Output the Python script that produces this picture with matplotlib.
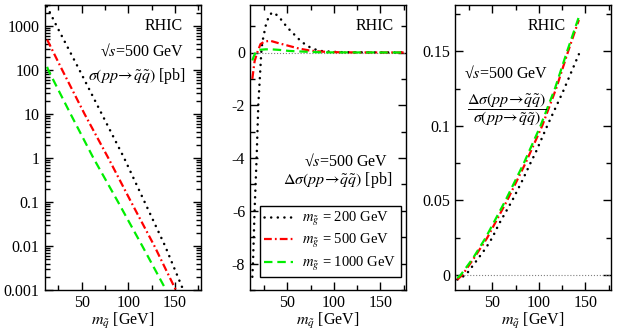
import matplotlib
matplotlib.use('Agg')
import matplotlib.pyplot as plt
from matplotlib.ticker import MultipleLocator, LogLocator, FuncFormatter, NullFormatter

plt.rcParams['font.family'] = ['Liberation Serif', 'DejaVu Serif']
plt.rcParams['mathtext.fontset'] = 'stix'
plt.rcParams['axes.unicode_minus'] = False
plt.rcParams['font.size'] = 11

# gluino masses (legend)
gluino_labels = [r'$m_{\tilde{g}}$ = 200 GeV', r'$m_{\tilde{g}}$ = 500 GeV', r'$m_{\tilde{g}}$ = 1000 GeV']

# panel 1: unpolarized cross section [pb]
m1_200 = [12.5, 23, 47.5, 71.5, 95.5, 117.5, 139.5, 159]
s1_200 = [2800, 1000, 100, 10, 1, 0.1, 0.01, 0.001]
m1_500 = [12.8, 29, 53, 78.5, 103, 128, 151]
s1_500 = [490, 100, 10, 1, 0.1, 0.01, 0.001]
m1_1000 = [12.8, 14, 38, 62.5, 89, 115, 140.5]
s1_1000 = [118, 100, 10, 1, 0.1, 0.01, 0.001]

# panel 2: polarized cross section [pb]
m2_200 = [12.5, 13.2, 14.9, 17.1, 18.9, 22.1, 23.2, 26.8, 30.4, 33.9, 37.5, 42.9,
          50, 57, 64.3, 71.4, 78.6, 85.7, 96.4, 110, 175]
d2_200 = [-8.5, -8, -6, -4, -2, 0, 0.38, 1.01, 1.39, 1.52, 1.46, 1.27,
          0.95, 0.7, 0.44, 0.25, 0.13, 0.06, 0.03, 0.01, 0]
m2_500 = [12.5, 14.3, 15, 17.8, 21.3, 25, 28.6, 32.2, 41, 51.8, 62.5, 73.2, 84, 94.6, 110, 175]
d2_500 = [-1.0, -0.5, -0.32, 0, 0.32, 0.4, 0.43, 0.44, 0.35, 0.25, 0.15, 0.08, 0.04, 0.02, 0.005, 0]
m2_1000 = [12.5, 14, 16, 19.6, 26.7, 33, 41, 51.8, 69.6, 87.5, 175]
d2_1000 = [-0.3, -0.15, 0, 0.1, 0.12, 0.12, 0.1, 0.06, 0.03, 0.005, 0]

# panel 3: asymmetry
m3_200 = [12.5, 21.5, 30, 43, 50, 57, 71.5, 82, 91, 96.5, 109, 126, 143]
a3_200 = [-0.003, 0, 0.007, 0.018, 0.025, 0.034, 0.05, 0.063, 0.075, 0.082, 0.1, 0.123, 0.148]
m3_500 = [12.5, 17.8, 30, 44.6, 66, 85.7, 103.6, 118.6, 131.5, 143]
a3_500 = [-0.003, 0, 0.011, 0.025, 0.05, 0.075, 0.1, 0.125, 0.15, 0.171]
m3_1000 = [12.5, 16, 29, 42.9, 64.2, 83.9, 101.8, 117.3, 130.4, 143]
a3_1000 = [-0.002, 0, 0.011, 0.025, 0.05, 0.075, 0.1, 0.125, 0.15, 0.173]

styles = [dict(color='black', lw=1.8, ls=(0, (0.05, 2.6)), dash_capstyle='round'),
          dict(color='red', lw=1.6, ls=(0, (3.5, 1.4, 0.8, 1.4))),
          dict(color='#00ee00', lw=1.6, ls=(0, (3.8, 2.2)))]

fig = plt.figure(figsize=(6.27, 3.30), dpi=100)
lefts = [44.5 / 627, 250 / 627, 455 / 627]
w = 156 / 627
b = 1 - 290 / 330
h = 285 / 330
axs = [fig.add_axes([l, b, w, h]) for l in lefts]

fmt = FuncFormatter(lambda v, p: '%g' % v)
sqrt_s = '\u221a$s$=500 GeV'

for ax in axs:
    ax.set_xlim(10, 177.5)
    ax.xaxis.set_major_locator(MultipleLocator(50))
    ax.xaxis.set_minor_locator(MultipleLocator(25))
    ax.tick_params(which='both', direction='in', top=True, right=True, labelsize=11.5)
    ax.tick_params(which='major', length=6, width=1)
    ax.tick_params(which='minor', length=3.5, width=1)
    ax.set_xlabel(r'$m_{\tilde{q}}$ [GeV]', fontsize=11.5, labelpad=0)
    for s in ax.spines.values():
        s.set_linewidth(1)

# panel 1
ax = axs[0]
for m, s, st in zip([m1_200, m1_500, m1_1000], [s1_200, s1_500, s1_1000], styles):
    ax.semilogy(m, s, **st)
ax.set_ylim(0.001, 3000)
ax.yaxis.set_major_locator(LogLocator(base=10, numticks=10))
ax.yaxis.set_minor_locator(LogLocator(base=10, subs=range(2, 10), numticks=10))
ax.yaxis.set_major_formatter(fmt)
ax.yaxis.set_minor_formatter(NullFormatter())
ax.text(0.885, 0.925, 'RHIC', transform=ax.transAxes, ha='right', va='center', fontsize=11.5)
ax.text(0.895, 0.835, sqrt_s, transform=ax.transAxes, ha='right', va='center', fontsize=11.5)
ax.text(0.905, 0.75, r'$\sigma(pp\!\rightarrow\!\tilde{q}\tilde{q})$ [pb]', transform=ax.transAxes,
        ha='right', va='center', fontsize=11.5)

# panel 2
ax = axs[1]
ax.axhline(0, color='gray', lw=0.8, ls=':')
for m, d, st, lab in zip([m2_200, m2_500, m2_1000], [d2_200, d2_500, d2_1000], styles, gluino_labels):
    ax.plot(m, d, label=lab, **st)
ax.set_ylim(-9, 1.8)
ax.yaxis.set_major_locator(MultipleLocator(2))
ax.yaxis.set_minor_locator(MultipleLocator(1))
ax.yaxis.set_major_formatter(fmt)
ax.text(0.92, 0.925, 'RHIC', transform=ax.transAxes, ha='right', va='center', fontsize=11.5)
ax.text(0.885, 0.452, sqrt_s, transform=ax.transAxes, ha='right', va='center', fontsize=11.5)
ax.text(0.91, 0.385, r'$\Delta\sigma(pp\!\rightarrow\!\tilde{q}\tilde{q})$ [pb]', transform=ax.transAxes,
        ha='right', va='center', fontsize=11.5)
leg = ax.legend(loc='lower right', bbox_to_anchor=(0.965, 0.045), fontsize=10.5, frameon=True,
                fancybox=False, edgecolor='black', framealpha=1, handlelength=2.0,
                borderpad=0.3, labelspacing=0.3, handletextpad=0.6, borderaxespad=0)
leg.get_frame().set_linewidth(1)

# panel 3
ax = axs[2]
ax.axhline(0, color='gray', lw=0.8, ls=':')
for m, a, st in zip([m3_200, m3_500, m3_1000], [a3_200, a3_500, a3_1000], styles):
    ax.plot(m, a, **st)
ax.set_ylim(-0.01, 0.181)
ax.yaxis.set_major_locator(MultipleLocator(0.05))
ax.yaxis.set_minor_locator(MultipleLocator(0.025))
ax.yaxis.set_major_formatter(fmt)
ax.text(0.588, 0.925, 'RHIC', transform=ax.transAxes, ha='center', va='center', fontsize=11.5)
ax.text(0.06, 0.758, sqrt_s, transform=ax.transAxes, ha='left', va='center', fontsize=11.5)
ax.text(0.33, 0.635, r'$\dfrac{\Delta\sigma(pp\!\rightarrow\!\tilde{q}\tilde{q})}{\sigma(pp\!\rightarrow\!\tilde{q}\tilde{q})}$',
        transform=ax.transAxes, ha='center', va='center', fontsize=11.5)

fig.savefig('out.png', dpi=100)
